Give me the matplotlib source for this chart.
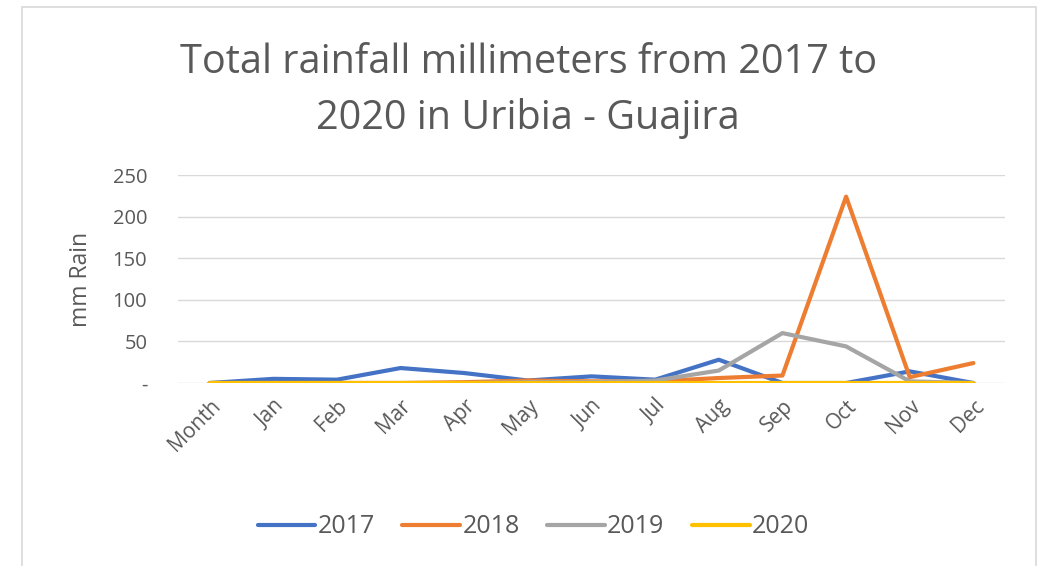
import matplotlib.pyplot as plt
from matplotlib.patches import Rectangle

# data (mm of rain)
months = ["Month", "Jan", "Feb", "Mar", "Apr", "May", "Jun", "Jul", "Aug", "Sep", "Oct", "Nov", "Dec"]
rain_2017 = [0, 5, 4, 18, 12, 3, 8, 4, 28, 0, 0, 14, 0]
rain_2018 = [0, 0, 0, 0, 1, 3, 2, 2, 6, 9, 224, 7, 24]
rain_2019 = [0, 0, 0, 0, 0, 1, 1, 3, 15, 60, 44, 2, 0]
rain_2020 = [0, 0, 0, 0, 0, 0, 0, 0, 0, 0, 0, 0, 0]
years = ["2017", "2018", "2019", "2020"]
colors = ["#4472C4", "#ED7D31", "#A5A5A5", "#FFC000"]

plt.rcParams['font.family'] = ['Open Sans', 'DejaVu Sans']
txt = "#595959"

fig = plt.figure(figsize=(10.46, 5.66), dpi=100)
ax = fig.add_axes([0.170, 0.3233, 0.791, 0.3675])

x = list(range(len(months)))
for series, name, c in zip([rain_2017, rain_2018, rain_2019, rain_2020], years, colors):
    ax.plot(x, series, color=c, lw=3, label=name, solid_capstyle='round', solid_joinstyle='round')

ax.set_xlim(-0.5, len(months) - 0.5)
ax.set_ylim(0, 250)
ax.set_yticks([0, 50, 100, 150, 200, 250])
ax.set_yticklabels(["-", "50", "100", "150", "200", "250"])
ax.set_xticks(x)
ax.set_xticklabels(months, rotation=45, ha='right', rotation_mode='anchor')
ax.tick_params(axis='both', length=0, labelsize=14.5, colors=txt)
ax.tick_params(axis='y', pad=22)
ax.tick_params(axis='x', labelsize=15, pad=9)
ax.grid(axis='y', color='#D9D9D9', lw=1)
ax.set_axisbelow(True)
for s in ax.spines.values():
    s.set_visible(False)
ax.set_ylabel("mm Rain", fontsize=16.5, color=txt, labelpad=14)

fig.text(0.505, 0.840, "Total rainfall millimeters from 2017 to\n2020 in Uribia - Guajira",
         ha='center', va='center', fontsize=28.5, color=txt, linespacing=1.5)

fig.legend(loc='center', bbox_to_anchor=(0.51, 0.069), ncol=4, frameon=False,
           fontsize=18, handlelength=2.3, columnspacing=1.1, handletextpad=0.1,
           labelcolor=txt)

fig.patches.append(Rectangle((22 / 1046, -0.01), (1036 - 22) / 1046, 1.01 - 7 / 566,
                             transform=fig.transFigure, fill=False,
                             edgecolor='#D9D9D9', lw=1.2))

fig.savefig("out.png", dpi=100)
